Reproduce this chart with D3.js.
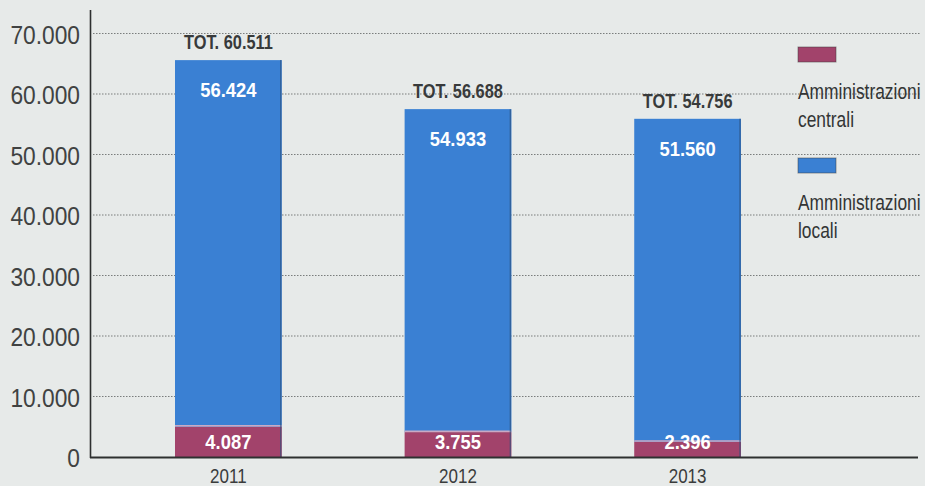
<!DOCTYPE html>
<html>
<head>
<meta charset="utf-8">
<script src="https://cdn.jsdelivr.net/npm/d3@7"></script>
<style>
  body { margin: 0; background: #e7eae9; }
  svg { display: block; }
</style>
</head>
<body>
<div id="chart"></div>
<script>
// years on the x axis
var years = ["2011", "2012", "2013"];
// segment heights as drawn in the picture (the printed bars are not to scale)
var centrali = [5000, 4100, 2500];
var locali = [60600, 53400, 53400];
// printed labels
var centraliLabels = ["4.087", "3.755", "2.396"];
var localiLabels = ["56.424", "54.933", "51.560"];
var totLabels = ["TOT. 60.511", "TOT. 56.688", "TOT. 54.756"];
var yTicks = [0, 10000, 20000, 30000, 40000, 50000, 60000, 70000];
var legendNames = [["Amministrazioni", "centrali"], ["Amministrazioni", "locali"]];

var width = 925, height = 486;
var colorCentrali = "#a2436b", colorLocali = "#3a80d3";
var labelFont = "Liberation Sans, Arial, sans-serif";

var svg = d3.select("#chart").append("svg")
    .attr("width", width)
    .attr("height", height);

svg.append("rect").attr("width", width).attr("height", height).attr("fill", "#e7eae9");

var yscale = d3.scaleLinear().domain([0, 70000]).range([457, 33.5]);
var xscale = d3.scaleBand().domain(years).range([113, 803]).paddingInner(0.535).paddingOuter(0.27);

var fmt = function (d) { return d === 0 ? "0" : d3.format(",")(d).replace(/,/g, "."); };

// condensed text: place at (x,y) and squeeze horizontally
function squeeze(sel, fx, fy, sx) {
    sel.attr("transform", function (d, i) {
        return "translate(" + fx(d, i) + "," + fy(d, i) + ") scale(" + sx + ",1)";
    });
}

// gridlines
svg.append("g").selectAll("line").data(yTicks.filter(function (d) { return d > 0; }))
    .enter().append("line")
    .attr("x1", 93).attr("x2", 920)
    .attr("y1", function (d) { return yscale(d); })
    .attr("y2", function (d) { return yscale(d); })
    .attr("stroke", "#7a7d7d")
    .attr("stroke-width", 1.2)
    .attr("stroke-dasharray", "1.5,1.5");

// y tick labels
svg.append("g").selectAll("text").data(yTicks)
    .enter().append("text")
    .call(squeeze, function () { return 80; }, function (d) { return yscale(d) + 10; }, 0.91)
    .attr("text-anchor", "end")
    .attr("font-family", labelFont)
    .attr("font-size", 25)
    .attr("fill", "#404242")
    .text(fmt);

// bars
var bars = svg.append("g").selectAll("g").data(years).enter().append("g");

bars.append("rect")
    .attr("x", function (d) { return xscale(d); })
    .attr("width", xscale.bandwidth())
    .attr("y", function (d, i) { return yscale(centrali[i] + locali[i]); })
    .attr("height", function (d, i) { return yscale(centrali[i]) - yscale(centrali[i] + locali[i]); })
    .attr("fill", colorLocali);

bars.append("rect")
    .attr("x", function (d) { return xscale(d); })
    .attr("width", xscale.bandwidth())
    .attr("y", function (d, i) { return yscale(centrali[i]); })
    .attr("height", function (d, i) { return yscale(0) - yscale(centrali[i]); })
    .attr("fill", colorCentrali);

// thin light line between segments
bars.append("line")
    .attr("x1", function (d) { return xscale(d); })
    .attr("x2", function (d) { return xscale(d) + xscale.bandwidth(); })
    .attr("y1", function (d, i) { return yscale(centrali[i]) - 1; })
    .attr("y2", function (d, i) { return yscale(centrali[i]) - 1; })
    .attr("stroke", "#c9a9c4")
    .attr("stroke-width", 1.5);

// darker right edge
bars.append("line")
    .attr("x1", function (d) { return xscale(d) + xscale.bandwidth() - 1; })
    .attr("x2", function (d) { return xscale(d) + xscale.bandwidth() - 1; })
    .attr("y1", function (d, i) { return yscale(centrali[i] + locali[i]); })
    .attr("y2", yscale(0))
    .attr("stroke", "#2b4f7c")
    .attr("stroke-opacity", 0.6)
    .attr("stroke-width", 1.5);

var mid = function (d) { return xscale(d) + xscale.bandwidth() / 2; };

bars.append("text")
    .call(squeeze, mid, function (d, i) { return yscale(centrali[i] + locali[i]) + 37; }, 0.92)
    .attr("text-anchor", "middle")
    .attr("font-family", labelFont)
    .attr("font-weight", "bold")
    .attr("font-size", 20)
    .attr("fill", "#ffffff")
    .text(function (d, i) { return localiLabels[i]; });

bars.append("text")
    .call(squeeze, mid, function () { return yscale(0) - 8; }, 0.92)
    .attr("text-anchor", "middle")
    .attr("font-family", labelFont)
    .attr("font-weight", "bold")
    .attr("font-size", 20)
    .attr("fill", "#ffffff")
    .text(function (d, i) { return centraliLabels[i]; });

bars.append("text")
    .call(squeeze, mid, function (d, i) { return yscale(centrali[i] + locali[i]) - 11; }, 0.84)
    .attr("text-anchor", "middle")
    .attr("font-family", labelFont)
    .attr("font-weight", "bold")
    .attr("font-size", 19.5)
    .attr("fill", "#383a3b")
    .text(function (d, i) { return totLabels[i]; });

// x labels
svg.append("g").selectAll("text").data(years)
    .enter().append("text")
    .call(squeeze, mid, function () { return 483; }, 0.81)
    .attr("text-anchor", "middle")
    .attr("font-family", labelFont)
    .attr("font-size", 21)
    .attr("fill", "#3a3c3c")
    .text(function (d) { return d; });

// axes lines
svg.append("line").attr("x1", 90.5).attr("x2", 90.5).attr("y1", 10).attr("y2", 458)
    .attr("stroke", "#2e3030").attr("stroke-width", 1.6);
svg.append("line").attr("x1", 90).attr("x2", 918).attr("y1", 457.5).attr("y2", 457.5)
    .attr("stroke", "#2e3030").attr("stroke-width", 1.8);

// legend
var legend = svg.append("g").selectAll("g").data([colorCentrali, colorLocali])
    .enter().append("g")
    .attr("transform", function (d, i) { return "translate(798," + (47 + i * 111) + ")"; });

legend.append("rect")
    .attr("width", 38).attr("height", 15)
    .attr("fill", function (d) { return d; })
    .attr("stroke", "#3b3b3b").attr("stroke-opacity", 0.5);

legend.append("text")
    .attr("transform", "translate(0,52) scale(0.79,1)")
    .attr("font-family", labelFont)
    .attr("font-size", 22)
    .attr("fill", "#333535")
    .each(function (d, i) {
        var t = d3.select(this);
        legendNames[i].forEach(function (s, j) {
            t.append("tspan").attr("x", 0).attr("dy", j === 0 ? 0 : 28).text(s);
        });
    });
</script>
</body>
</html>
